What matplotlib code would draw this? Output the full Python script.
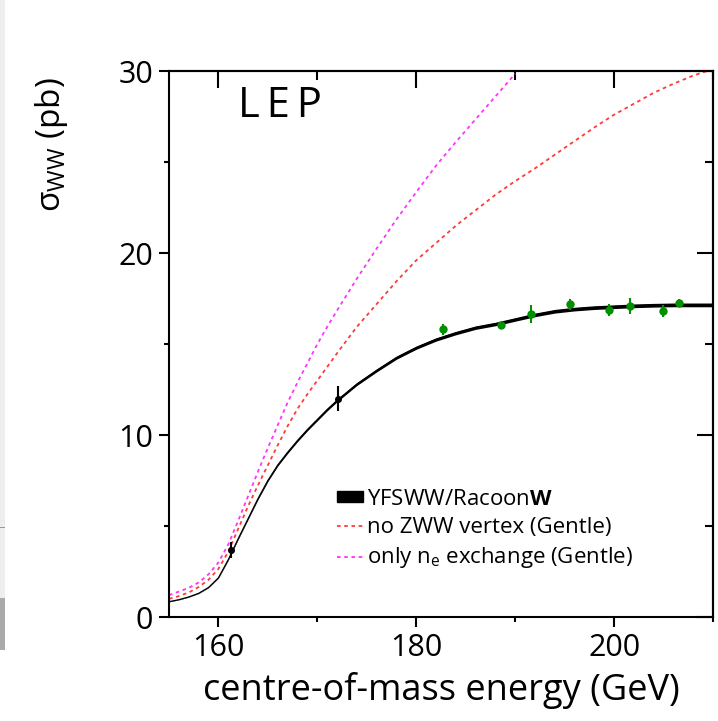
import numpy as np
import matplotlib
matplotlib.use("Agg")
import matplotlib.pyplot as plt
from matplotlib.patches import Rectangle
from matplotlib.lines import Line2D
from matplotlib.ticker import MultipleLocator

plt.rcParams['font.family'] = ['Open Sans', 'DejaVu Sans']
plt.rcParams['mathtext.fontset'] = 'custom'
plt.rcParams['mathtext.rm'] = 'Open Sans'
plt.rcParams['mathtext.it'] = 'Open Sans:italic'
plt.rcParams['mathtext.bf'] = 'Open Sans:bold'

# Standard Model prediction (YFSWW/RacoonW), sigma_WW in pb vs sqrt(s) in GeV
sm_energy = [155, 156, 157, 158, 159, 160, 161, 162, 163, 164, 165, 166, 167, 168,
             169, 170, 171, 172, 173, 174, 176, 178, 180, 182, 184, 186, 188, 190,
             192, 194, 196, 198, 200, 202, 204, 206, 208, 210]
sm_xsec = [0.84, 0.95, 1.1, 1.3, 1.62, 2.15, 3.15, 4.3, 5.4, 6.5, 7.5, 8.35, 9.05, 9.7,
           10.3, 10.85, 11.4, 11.9, 12.35, 12.8, 13.55, 14.25, 14.8, 15.25, 15.6, 15.9,
           16.1, 16.35, 16.6, 16.8, 16.92, 17.0, 17.05, 17.1, 17.13, 17.15, 17.15, 17.15]

# Gentle: no ZWW vertex
nozww_energy = [155, 156, 157, 158, 159, 160, 161, 162, 163, 164, 165, 166, 167, 168,
                169, 170, 171, 172, 174, 176, 178, 180, 182, 184, 186, 188, 190, 192,
                194, 196, 198, 200, 202, 204, 206, 208, 210]
nozww_xsec = [1.0, 1.15, 1.35, 1.65, 2.05, 2.65, 3.6, 4.85, 6.1, 7.25, 8.35, 9.45, 10.5,
              11.45, 12.25, 13.0, 13.75, 14.5, 15.95, 17.2, 18.45, 19.6, 20.55, 21.5,
              22.35, 23.2, 23.95, 24.65, 25.4, 26.15, 26.9, 27.6, 28.2, 28.8, 29.3,
              29.75, 30.1]

# Gentle: only nu_e exchange
nue_energy = [155, 156, 157, 158, 159, 160, 161, 162, 163, 164, 165, 166, 167, 168,
              169, 170, 171, 172, 174, 176, 178, 180, 182, 184, 186, 188, 190]
nue_xsec = [1.2, 1.4, 1.6, 1.9, 2.35, 3.0, 4.0, 5.3, 6.65, 8.0, 9.3, 10.55, 11.8, 12.9,
            13.95, 15.0, 15.95, 16.85, 18.6, 20.25, 21.85, 23.35, 24.8, 26.1, 27.35,
            28.6, 29.85]

# LEP measurements
lep2_energy = [161.3, 172.1]
lep2_xsec = [3.68, 12.0]
lep2_err = [0.43, 0.7]

lep_energy = [182.7, 188.6, 191.6, 195.5, 199.5, 201.6, 204.9, 206.6]
lep_xsec = [15.8, 16.02, 16.65, 17.18, 16.87, 17.1, 16.8, 17.27]
lep_err = [0.32, 0.15, 0.49, 0.31, 0.31, 0.44, 0.32, 0.2]

fig = plt.figure(figsize=(7.18, 7.21), dpi=100)
ax = fig.add_axes([0.2354, 0.1442, 0.7576, 0.7573])

sm_e = np.array(sm_energy)
sm_s = np.array(sm_xsec)
ax.fill_between(sm_e, sm_s * 0.994, sm_s * 1.006, color='black', lw=0)
ax.plot(sm_e, sm_s, color='black', lw=1.0)

ax.plot(nozww_energy, nozww_xsec, color='#ff3a3a', lw=1.3, ls=(0, (2, 2)))
ax.plot(nue_energy, nue_xsec, color='#ff33ff', lw=1.3, ls=(0, (2, 2)))

ax.errorbar(lep2_energy, lep2_xsec, yerr=lep2_err, fmt='o', color='black',
            ms=4, elinewidth=1.5, capsize=0)
ax.errorbar(lep_energy, lep_xsec, yerr=lep_err, fmt='o', color='#009000',
            ms=5, elinewidth=1.5, capsize=0)

ax.set_xlim(155, 210)
ax.set_ylim(0, 30)
ax.set_xticks([160, 180, 200])
ax.set_yticks([0, 10, 20, 30])
ax.xaxis.set_minor_locator(MultipleLocator(10))
ax.yaxis.set_minor_locator(MultipleLocator(5))
ax.tick_params(which='major', direction='out', length=7.5, width=1.5,
               labelsize=22, pad=4)
ax.tick_params(which='minor', direction='out', length=3.8, width=1.5)
for sp in ax.spines.values():
    sp.set_linewidth(1.5)

# top and right ticks point inward and are longer
top = ax.secondary_xaxis('top')
top.set_xticks([160, 180, 200])
top.xaxis.set_minor_locator(MultipleLocator(10))
top.tick_params(which='major', direction='in', length=12, width=1.5, labeltop=False)
top.tick_params(which='minor', direction='in', length=6.5, width=1.5)
top.spines['top'].set_linewidth(1.5)

right = ax.secondary_yaxis('right')
right.set_yticks([0, 10, 20, 30])
right.yaxis.set_minor_locator(MultipleLocator(5))
right.tick_params(which='major', direction='in', length=11.5, width=1.5, labelright=False)
right.tick_params(which='minor', direction='in', length=5.5, width=1.5)
right.spines['right'].set_linewidth(1.5)

ax.text(0.127, 0.916, 'L\u2009E\u2009P', transform=ax.transAxes, fontsize=30,
        ha='left', va='baseline')

ax_mid = (0.2354 + 0.2354 + 0.7576) / 2
fig.text(ax_mid, 0.042, 'centre-of-mass energy (GeV)', fontsize=26,
         ha='center', va='center')
fig.text(0.072, 0.80, r'σ$_{\mathrm{WW}}$ (pb)', fontsize=24, rotation=90,
         ha='center', va='center')

handles = [Rectangle((0, 0), 1, 1, color='black'),
           Line2D([], [], color='#ff3a3a', lw=1.3, ls=(0, (2, 2))),
           Line2D([], [], color='#ff33ff', lw=1.3, ls=(0, (2, 2)))]
labels = [r'YFSWW/Racoon$\mathbf{W}$', 'no ZWW vertex (Gentle)',
          r'only n$_{\mathrm{e}}$ exchange (Gentle)']
ax.legend(handles, labels, loc='upper left', bbox_to_anchor=(0.309, 0.235),
          frameon=False, fontsize=16, handlelength=1.15, handleheight=0.4,
          handletextpad=0.2, labelspacing=0.33, borderpad=0, borderaxespad=0)

# page edge strip at far left
fig.add_artist(Rectangle((0, 1 - 598 / 721), 5 / 718, 598 / 721,
                         transform=fig.transFigure, color='#eeeeee', lw=0))
fig.add_artist(Rectangle((0, 1 - 528 / 721), 5 / 718, 1 / 721,
                         transform=fig.transFigure, color='#999999', lw=0))
fig.add_artist(Rectangle((0, 1 - 650 / 721), 5 / 718, 52 / 721,
                         transform=fig.transFigure, color='#aaaaaa', lw=0))

fig.savefig('out.png', dpi=100)
